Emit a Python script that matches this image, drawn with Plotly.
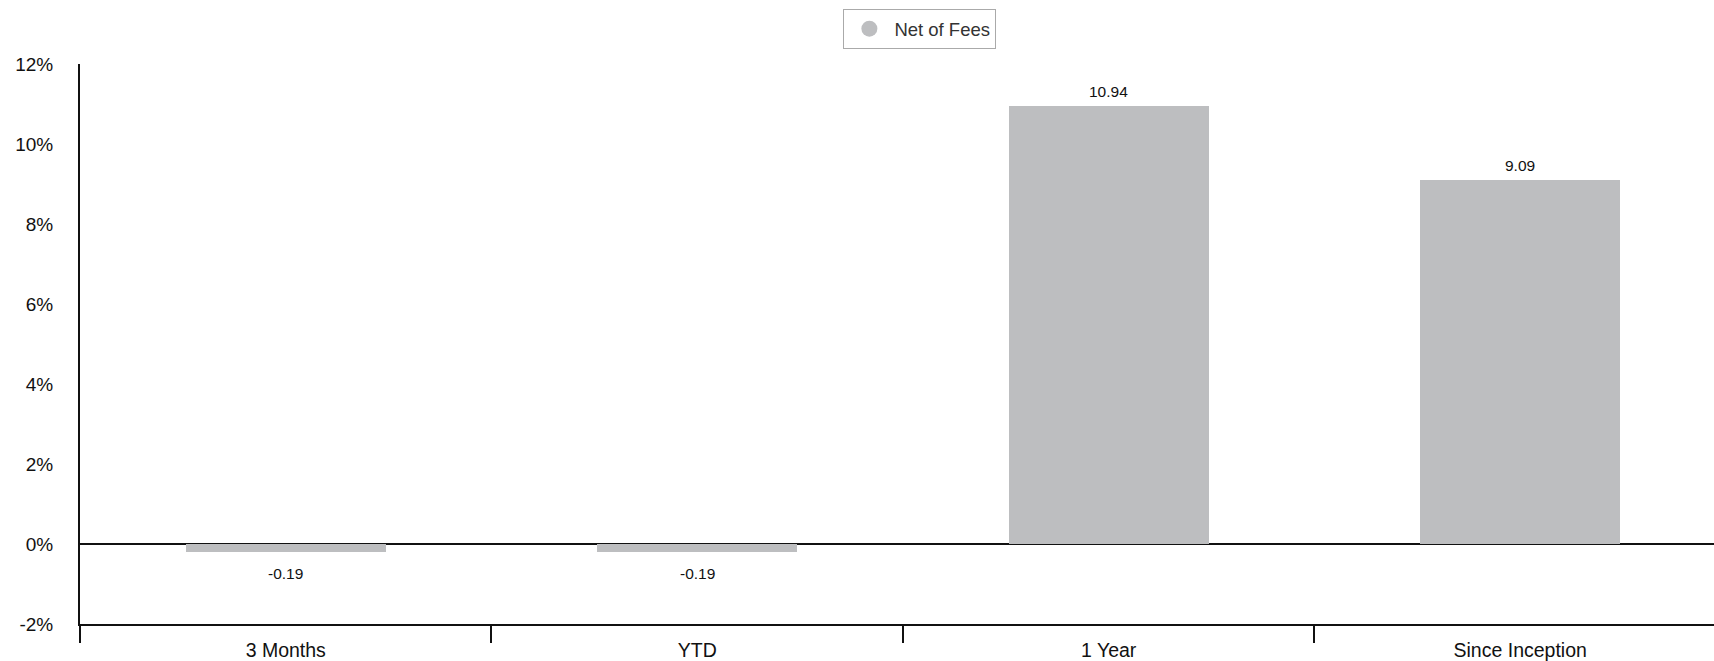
import plotly.graph_objects as go

categories = ["3 Months", "YTD", "1 Year", "Since Inception"]
net_of_fees = [-0.19, -0.19, 10.94, 9.09]
y_tick_vals = [-2, 0, 2, 4, 6, 8, 10, 12]
y_tick_text = ["-2%", "0%", "2%", "4%", "6%", "8%", "10%", "12%"]
series_name = "Net of Fees"

BAR_COLOR = "#bdbec0"
FONT = "Liberation Sans, Arial, sans-serif"

fig = go.Figure()
fig.add_trace(go.Bar(
    x=categories, y=net_of_fees, width=0.486,
    marker=dict(color=BAR_COLOR, line=dict(width=0)),
    showlegend=False, hoverinfo="skip",
))
# legend entry with a circular symbol
fig.add_trace(go.Scatter(
    x=[None], y=[None], mode="markers", name=series_name,
    marker=dict(symbol="circle", size=18, color=BAR_COLOR),
))

for c, v in zip(categories, net_of_fees):
    fig.add_annotation(
        x=c, y=v, text=f"{v:.2f}", showarrow=False,
        yanchor="middle", yshift=15 if v >= 0 else -22,
        font=dict(family=FONT, size=15.5, color="#111"),
    )

fig.update_layout(
    width=1714, height=661,
    margin=dict(l=80, r=0, t=64, b=37, pad=0),
    paper_bgcolor="white", plot_bgcolor="white",
    font=dict(family=FONT, color="#111"),
    bargap=0,
    legend=dict(
        orientation="h", x=0.514, xanchor="center", y=1.098, yanchor="top",
        bordercolor="#aaaaaa", borderwidth=1,
        font=dict(family=FONT, size=18.5, color="#333"),
        itemsizing="trace", itemwidth=40,
    ),
    xaxis=dict(
        type="category", range=[-0.5, 3.471],
        showline=True, linecolor="#111", linewidth=2,
        ticks="outside", tickson="boundaries", ticklen=17, tickwidth=2, tickcolor="#111",
        showgrid=False, zeroline=False,
        tickfont=dict(family=FONT, size=19.5, color="#111"),
        ticklabelstandoff=8,
        fixedrange=True,
    ),
    yaxis=dict(
        range=[-2, 12], tickvals=y_tick_vals, ticktext=y_tick_text,
        showline=True, linecolor="#111", linewidth=2,
        ticks="", showgrid=False,
        zeroline=True, zerolinecolor="#111", zerolinewidth=2,
        tickfont=dict(family=FONT, size=19, color="#111"),
        ticklabelstandoff=21,
        fixedrange=True,
    ),
)

fig.write_html(
    "out.html",
    config={"displayModeBar": False},
    post_script="document.body.style.margin='0';document.body.style.overflow='hidden';",
)
